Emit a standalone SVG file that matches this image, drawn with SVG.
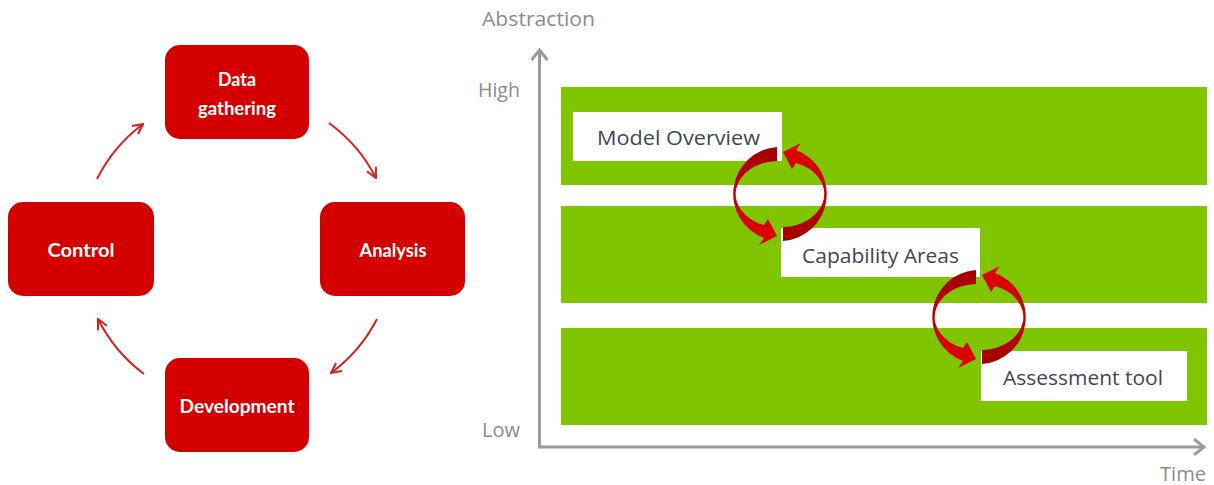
<svg xmlns="http://www.w3.org/2000/svg" width="1214" height="485" viewBox="0 0 1214 485">
  <style>
    .box { fill: #D40000; }
    .boxtxt { fill: #FFFFFF; font-family: Lato, "Liberation Sans", sans-serif; font-weight: bold; font-size: 18px; text-anchor: middle; }
    .cyc { fill: none; stroke: #D42020; stroke-width: 2; }
    .band { fill: #7FC500; }
    .lbl { fill: #FFFFFF; }
    .lbltxt { fill: #3E4654; font-family: "Open Sans", "Liberation Sans", sans-serif; font-size: 20px; }
    .axtxt { fill: #8C8C8C; font-family: "Open Sans", "Liberation Sans", sans-serif; font-size: 20px; }
    .axis { fill: none; stroke: #9A9A9A; stroke-width: 3; }
  </style>
  <defs>
    <marker id="chev" viewBox="0 0 12 12" refX="11" refY="6" markerWidth="12" markerHeight="12" markerUnits="userSpaceOnUse" orient="auto">
      <path d="M1,1 L11,6 L1,11" fill="none" stroke="#D42020" stroke-width="2"/>
    </marker>
    <marker id="axhead" viewBox="0 0 14 18" refX="12" refY="9" markerWidth="14" markerHeight="18" markerUnits="userSpaceOnUse" orient="auto">
      <path d="M2,1 L12,9 L2,17" fill="none" stroke="#9A9A9A" stroke-width="3"/>
    </marker>
    <linearGradient id="gDown" x1="0" y1="0" x2="0" y2="1">
      <stop offset="0" stop-color="#A00000"/>
      <stop offset="0.5" stop-color="#C80000"/>
      <stop offset="1" stop-color="#E40000"/>
    </linearGradient>
    <linearGradient id="gUp" x1="0" y1="1" x2="0" y2="0">
      <stop offset="0" stop-color="#A00000"/>
      <stop offset="0.5" stop-color="#C80000"/>
      <stop offset="1" stop-color="#E40000"/>
    </linearGradient>
    <g id="ring">
      <path fill="url(#gDown)" d="M777,147 A47,47 0 0 0 764,238 L759,245 L777,236 L768,219 L764,225 A43,33 0 0 1 777,161 Z"/>
      <path fill="url(#gUp)" d="M783,241 A47,47 0 0 0 796,150 L801,143 L783,152 L792,169 L796,163 A43,33 0 0 1 783,227 Z"/>
    </g>
  </defs>

  <!-- Left cycle -->
  <g id="node-data-gathering">
    <rect class="box" x="165" y="45" width="144" height="94" rx="15"/>
    <text class="boxtxt" x="237" y="86" textLength="38" lengthAdjust="spacingAndGlyphs">Data</text>
    <text class="boxtxt" x="237" y="115" textLength="78" lengthAdjust="spacingAndGlyphs">gathering</text>
  </g>
  <g id="node-control">
    <rect class="box" x="8" y="202" width="146" height="94" rx="15"/>
    <text class="boxtxt" x="81" y="257" textLength="67" lengthAdjust="spacingAndGlyphs">Control</text>
  </g>
  <g id="node-analysis">
    <rect class="box" x="320" y="202" width="145" height="94" rx="15"/>
    <text class="boxtxt" x="393" y="257" textLength="67" lengthAdjust="spacingAndGlyphs">Analysis</text>
  </g>
  <g id="node-development">
    <rect class="box" x="165" y="358" width="144" height="94" rx="15"/>
    <text class="boxtxt" x="237" y="413" textLength="115" lengthAdjust="spacingAndGlyphs">Development</text>
  </g>
  <g id="cycle-connectors">
    <path class="cyc" d="M97,179 A156,156 0 0 1 143,124" marker-end="url(#chev)"/>
    <path class="cyc" d="M329,123 A156,156 0 0 1 376,178" marker-end="url(#chev)"/>
    <path class="cyc" d="M377,319 A156,156 0 0 1 331,373" marker-end="url(#chev)"/>
    <path class="cyc" d="M144,374 A156,156 0 0 1 98,319" marker-end="url(#chev)"/>
  </g>

  <!-- Right chart -->
  <g id="bands">
    <rect class="band" x="561" y="87" width="646" height="98"/>
    <rect class="band" x="561" y="206" width="646" height="97"/>
    <rect class="band" x="561" y="328" width="646" height="97"/>
  </g>
  <g id="axes">
    <path class="axis" d="M539.5,447 L539.5,50" marker-end="url(#axhead)"/>
    <path class="axis" d="M538,447 L1204,447" marker-end="url(#axhead)"/>
    <text class="axtxt" x="482" y="26" textLength="113" lengthAdjust="spacingAndGlyphs">Abstraction</text>
    <text class="axtxt" x="478" y="97" textLength="42" lengthAdjust="spacingAndGlyphs">High</text>
    <text class="axtxt" x="482" y="437" textLength="38" lengthAdjust="spacingAndGlyphs">Low</text>
    <text class="axtxt" x="1160" y="481" textLength="46" lengthAdjust="spacingAndGlyphs">Time</text>
  </g>
  <g id="node-model-overview">
    <rect class="lbl" x="573" y="112" width="209" height="49"/>
    <text class="lbltxt" x="597" y="145" textLength="163" lengthAdjust="spacingAndGlyphs">Model Overview</text>
  </g>
  <g id="node-capability-areas">
    <rect class="lbl" x="781" y="228" width="199" height="49"/>
    <text class="lbltxt" x="802" y="263" textLength="157" lengthAdjust="spacingAndGlyphs">Capability Areas</text>
  </g>
  <g id="node-assessment-tool">
    <rect class="lbl" x="981" y="351" width="206" height="50"/>
    <text class="lbltxt" x="1003" y="385" textLength="160" lengthAdjust="spacingAndGlyphs">Assessment tool</text>
  </g>
  <g id="ring-connectors">
    <use href="#ring"/>
    <use href="#ring" transform="translate(199,123)"/>
  </g>
</svg>
